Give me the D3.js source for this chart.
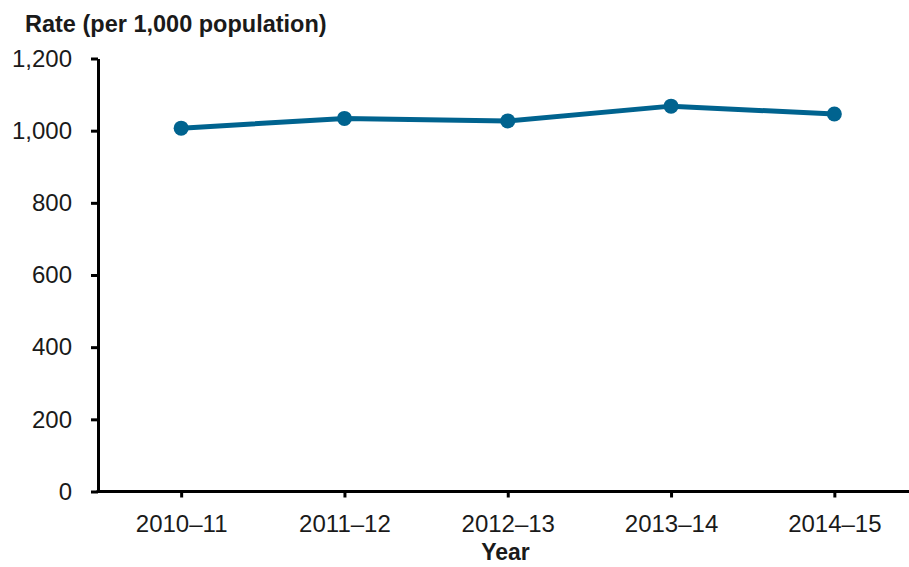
<!DOCTYPE html>
<html>
<head>
<meta charset="utf-8">
<script src="https://cdn.jsdelivr.net/npm/d3@7"></script>
<style>
  html, body { margin: 0; padding: 0; background: #fff; }
  svg { display: block; font-family: "Liberation Sans", Arial, sans-serif; }
</style>
</head>
<body>
<svg id="chart" width="909" height="567"></svg>
<script>
const categories = ["2010\u201311", "2011\u201312", "2012\u201313", "2013\u201314", "2014\u201315"];
const values = [1007, 1034, 1027, 1068, 1046];
const yTicks = [0, 200, 400, 600, 800, 1000, 1200];
const yTitle = "Rate (per 1,000 population)";
const xTitle = "Year";

const svg = d3.select("#chart");
const m = { left: 98, top: 58.5, right: 916, bottom: 491.5 };

const x = d3.scalePoint().domain(categories).range([m.left + 1.5, m.right]).padding(0.5);
const y = d3.scaleLinear().domain([0, 1200]).range([m.bottom, m.top]);

// Y axis
const yAxis = svg.append("g")
  .attr("transform", `translate(${m.left},0)`)
  .call(d3.axisLeft(y).tickValues(yTicks).tickFormat(d3.format(",")).tickSize(7).tickPadding(19).tickSizeOuter(0));
yAxis.select(".domain").attr("stroke", "#000").attr("stroke-width", 3);
yAxis.selectAll(".tick line").attr("stroke", "#000").attr("stroke-width", 3);
yAxis.selectAll(".tick text").attr("font-size", 24).attr("fill", "#1a1a1a")
  .attr("font-family", "Liberation Sans, Arial, sans-serif");

// X axis
const xAxis = svg.append("g")
  .attr("transform", `translate(0,${m.bottom})`)
  .call(d3.axisBottom(x).tickSize(6).tickPadding(17).tickSizeOuter(0));
xAxis.select(".domain").attr("stroke", "#000").attr("stroke-width", 3)
  .attr("d", `M${m.left - 1.5},0H${m.right}`);
xAxis.selectAll(".tick line").attr("stroke", "#000").attr("stroke-width", 3);
xAxis.selectAll(".tick text").attr("font-size", 24).attr("fill", "#1a1a1a")
  .attr("font-family", "Liberation Sans, Arial, sans-serif");

// Titles
svg.append("text")
  .attr("x", 25).attr("y", 32)
  .attr("font-size", 23.5).attr("font-weight", "bold").attr("fill", "#1a1a1a")
  .text(yTitle);
svg.append("text")
  .attr("x", (m.left + 913) / 2).attr("y", 560)
  .attr("text-anchor", "middle")
  .attr("font-size", 23).attr("font-weight", "bold").attr("fill", "#1a1a1a")
  .text(xTitle);

// Line
const data = categories.map((c, i) => ({ c, v: values[i] }));
const color = "#00638f";
svg.append("path")
  .datum(data)
  .attr("fill", "none")
  .attr("stroke", color)
  .attr("stroke-width", 5)
  .attr("stroke-linejoin", "round")
  .attr("d", d3.line().x(d => x(d.c)).y(d => y(d.v)));
svg.selectAll("circle.pt")
  .data(data)
  .join("circle")
  .attr("class", "pt")
  .attr("cx", d => x(d.c))
  .attr("cy", d => y(d.v))
  .attr("r", 7.5)
  .attr("fill", color);
</script>
</body>
</html>
